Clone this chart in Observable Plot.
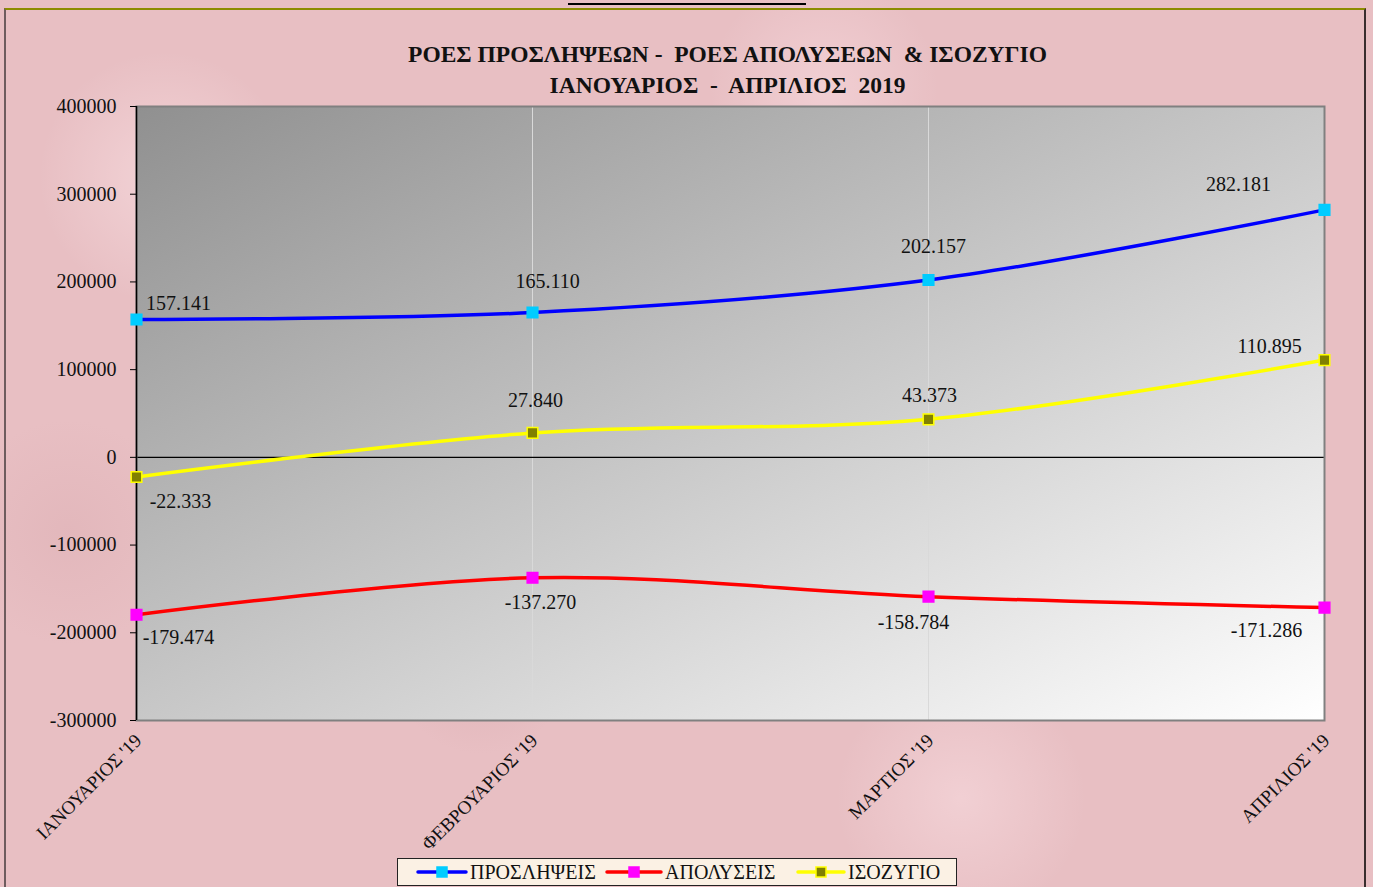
<!DOCTYPE html>
<html>
<head>
<meta charset="utf-8">
<script src="https://cdn.jsdelivr.net/npm/d3@7"></script>
<script src="https://cdn.jsdelivr.net/npm/@observablehq/plot@0.6"></script>
<style>
  html, body { margin: 0; padding: 0; }
  body {
    width: 1373px; height: 887px; overflow: hidden; position: relative;
    background-color: #e8bfc3;
    background-image:
      radial-gradient(circle at 12% 20%, rgba(255,235,238,0.45) 0, rgba(255,235,238,0) 9%),
      radial-gradient(circle at 35% 75%, rgba(200,150,155,0.25) 0, rgba(200,150,155,0) 8%),
      radial-gradient(circle at 60% 10%, rgba(255,230,235,0.4) 0, rgba(255,230,235,0) 10%),
      radial-gradient(circle at 85% 55%, rgba(205,155,160,0.25) 0, rgba(205,155,160,0) 9%),
      radial-gradient(circle at 70% 90%, rgba(255,232,236,0.4) 0, rgba(255,232,236,0) 10%),
      radial-gradient(circle at 5% 60%, rgba(210,160,165,0.25) 0, rgba(210,160,165,0) 8%);
    font-family: "Liberation Serif", "DejaVu Serif", serif;
  }
  #frame {
    position: absolute; left: 4px; top: 8px; width: 1362px; height: 885px;
    border-top: 2px solid #8c8c00; border-left: 2px solid #6e5c5e; border-right: 2px solid #3a2e2e;
    box-sizing: border-box;
  }
  #topline { position: absolute; left: 568px; top: 3px; width: 238px; height: 2px; background: #000; }
  #chart { position: absolute; left: 0; top: 0; }
  #title {
    position: absolute; left: 0; top: 39px; width: 1455px; text-align: center;
    font-weight: bold; font-size: 23.5px; line-height: 31px; color: #111; white-space: pre;
  }
  #legend {
    position: absolute; left: 397px; top: 858px; width: 560px; height: 28px;
    background: #fbf1e4; border: 1.5px solid #222; box-sizing: border-box;
    font-size: 20px; color: #111; white-space: nowrap;
  }
  .item { position: absolute; top: 1px; height: 24px; display: flex; align-items: center; }
  .item svg { margin-right: 2px; }
</style>
</head>
<body>
<div id="topline"></div>
<div id="frame"></div>
<div id="chart"></div>
<div id="title">ΡΟΕΣ ΠΡΟΣΛΗΨΕΩΝ -  ΡΟΕΣ ΑΠΟΛΥΣΕΩΝ  &amp; ΙΣΟΖΥΓΙΟ
ΙΑΝΟΥΑΡΙΟΣ  -  ΑΠΡΙΛΙΟΣ  2019</div>
<div id="legend"></div>
<script>
// ---- data ----
const months = ["ΙΑΝΟΥΑΡΙΟΣ '19", "ΦΕΒΡΟΥΑΡΙΟΣ '19", "ΜΑΡΤΙΟΣ '19", "ΑΠΡΙΛΙΟΣ '19"];
const seriesNames = ["ΠΡΟΣΛΗΨΕΙΣ", "ΑΠΟΛΥΣΕΙΣ", "ΙΣΟΖΥΓΙΟ"];
const hires = [157141, 165110, 202157, 282181];
const layoffs = [-179474, -137270, -158784, -171286];
const balance = [-22333, 27840, 43373, 110895];
const yTicks = [-300000, -200000, -100000, 0, 100000, 200000, 300000, 400000];

// ---- styles / layout ----
const lineColors = ["#0000ff", "#ff0000", "#ffff00"];
const markerFill = ["#00ccff", "#ff00ff", "#808000"];
const markerStroke = ["#00ccff", "#ff00ff", "#ffff00"];
// label offsets (dx, dy) per series per month
const labelOffsets = [
  [[42, -16], [15, -31], [5, -33], [-86, -25]],
  [[42, 23], [8, 25], [-15, 26], [-58, 23]],
  [[44, 25], [3, -32], [1, -24], [-55, -13]]
];

const valuesBySeries = [hires, layoffs, balance];
const rows = [];
seriesNames.forEach((s, si) => valuesBySeries[si].forEach((v, mi) => rows.push({series: s, si, month: months[mi], mi, value: v})));

const fmt = v => (v < 0 ? "-" : "") + d3.format(",")(Math.abs(v)).replace(/,/g, ".");

const defsMark = () => {
  const defs = d3.create("svg:defs");
  const g = defs.append("linearGradient").attr("id", "plotbg")
    .attr("x1", "0").attr("y1", "0").attr("x2", "1").attr("y2", "1");
  g.append("stop").attr("offset", "0%").attr("stop-color", "#909090");
  g.append("stop").attr("offset", "100%").attr("stop-color", "#ffffff");
  return defs.node();
};

const marks = [
  defsMark,
  Plot.frame({fill: "url(#plotbg)"}),
  Plot.gridX({stroke: "#d9d9d9", strokeOpacity: 1, strokeWidth: 1}),
  Plot.ruleY([0], {stroke: "#000", strokeWidth: 1.2}),
  Plot.frame({stroke: "#808080", strokeWidth: 2}),
  Plot.ruleX([months[0]], {stroke: "#000", strokeWidth: 1.5}),
  Plot.axisY({ticks: yTicks, tickFormat: d => String(d), tickSize: 6, tickPadding: 14, fontSize: 20, stroke: "#000", label: null}),
  Plot.axisX({tickSize: 0, tickRotate: -45, tickPadding: 17, fontSize: 19, label: null, dx: 2})
];
seriesNames.forEach((s, si) => {
  const d = rows.filter(r => r.si === si);
  marks.push(Plot.line(d, {x: "month", y: "value", stroke: lineColors[si], strokeWidth: 3.5, curve: "catmull-rom"}));
});
seriesNames.forEach((s, si) => {
  const d = rows.filter(r => r.si === si);
  marks.push(Plot.dot(d, {x: "month", y: "value", symbol: "square", r: 6, fill: markerFill[si], stroke: markerStroke[si], strokeWidth: 1.5}));
});
rows.forEach(r => {
  const [dx, dy] = labelOffsets[r.si][r.mi];
  marks.push(Plot.text([r], {x: "month", y: "value", text: d => fmt(d.value), dx, dy, fontSize: 20, fill: "#111", textAnchor: "middle", lineAnchor: "middle"}));
});

const chart = Plot.plot({
  width: 1373,
  height: 887,
  marginLeft: 136,
  marginRight: 49,
  marginTop: 106,
  marginBottom: 167,
  style: {background: "transparent", fontFamily: "'Liberation Serif', 'DejaVu Serif', serif", color: "#111"},
  x: {type: "point", domain: months, padding: 0, label: null},
  y: {domain: [-300000, 400000], label: null},
  marks
});
document.getElementById("chart").appendChild(chart);

// ---- legend ----
const legend = document.getElementById("legend");
const itemPos = [[18, 52], [207, 58], [398, 50]];
seriesNames.forEach((s, si) => {
  const item = document.createElement("div");
  item.className = "item";
  item.style.left = itemPos[si][0] + "px";
  const w = itemPos[si][1];
  item.innerHTML = `<svg width="${w}" height="14"><line x1="2" x2="${w - 2}" y1="7" y2="7" stroke="${lineColors[si]}" stroke-width="3.5" stroke-linecap="round"/><rect x="${w / 2 - 5}" y="2" width="10" height="10" fill="${markerFill[si]}" stroke="${markerStroke[si]}" stroke-width="1.5"/></svg><span>${s}</span>`;
  legend.appendChild(item);
});
</script>
</body>
</html>
